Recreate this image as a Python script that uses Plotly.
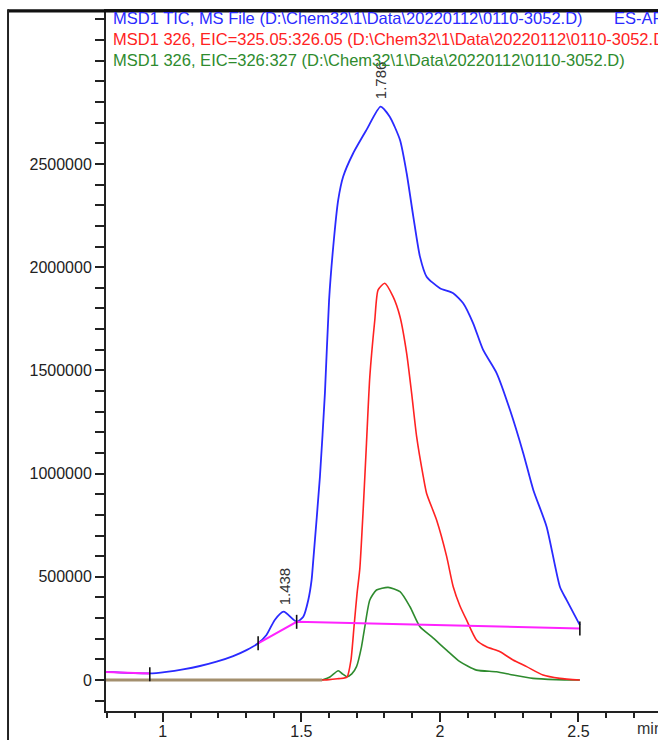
import plotly.graph_objects as go
import numpy as np

# ---------------- data ----------------
tic_time = [0.785, 0.953, 1.013, 1.073, 1.134, 1.194, 1.254, 1.302, 1.344, 1.374,
            1.404, 1.436, 1.483, 1.507, 1.525, 1.537, 1.543, 1.567, 1.585, 1.600,
            1.615, 1.633, 1.651, 1.687, 1.735, 1.786, 1.819, 1.856, 1.880, 1.904,
            1.928, 1.952, 2.000, 2.048, 2.084, 2.120, 2.156, 2.205, 2.253, 2.301,
            2.337, 2.385, 2.433, 2.457, 2.505]
tic = [40000, 32000, 40000, 52000, 68000, 89000, 116000, 145000, 178000, 218000,
       291000, 331000, 282000, 307000, 388000, 485000, 581000, 985000, 1390000, 1840000,
       2099000, 2326000, 2439000, 2552000, 2665000, 2778000, 2729000, 2616000, 2455000, 2245000,
       2051000, 1954000, 1898000, 1874000, 1825000, 1728000, 1599000, 1486000, 1308000, 1098000,
       921000, 743000, 452000, 388000, 266000]

eic1_time = [1.575, 1.600, 1.630, 1.655, 1.665, 1.679, 1.690, 1.701, 1.711, 1.723,
             1.735, 1.747, 1.765, 1.777, 1.801, 1.831, 1.856, 1.880, 1.898, 1.916,
             1.940, 1.952, 1.988, 2.024, 2.048, 2.072, 2.096, 2.132, 2.168, 2.217,
             2.264, 2.313, 2.372, 2.433, 2.505]
eic1 = [0, 2000, 6000, 10000, 15000, 97000, 258000, 420000, 540000, 824000,
        1147000, 1469000, 1744000, 1890000, 1922000, 1857000, 1760000, 1583000, 1389000, 1179000,
        985000, 904000, 775000, 600000, 452000, 360000, 291000, 194000, 161000, 137000,
        97000, 65000, 24000, 8000, 0]

eic2_time = [1.575, 1.603, 1.633, 1.648, 1.664, 1.682, 1.699, 1.717, 1.729, 1.747,
             1.771, 1.813, 1.856, 1.892, 1.928, 1.970, 2.024, 2.072, 2.132, 2.204,
             2.264, 2.336, 2.420, 2.505]
eic2 = [0, 15000, 45000, 30000, 16000, 30000, 65000, 161000, 258000, 388000,
        436000, 449000, 428000, 355000, 258000, 210000, 145000, 89000, 48000, 40000,
        24000, 8000, 2000, 0]

# integration baselines
tic_base_time = [0.785, 0.953, None, 1.344, 1.483, 2.505]
tic_base = [40000, 32000, None, 178000, 282000, 250000]
eic_base_time = [0.785, 1.575]
eic_base = [0, 0]

# integration event marks
event_time = [0.953, 1.344, 1.483, 2.505]
event_val = [28000, 178000, 282000, 250000]

peak_times = [1.438, 1.786]
peak_labels = ["1.438", "1.786"]

legend_lines = [
    "MSD1 TIC, MS File (D:\\Chem32\\1\\Data\\20220112\\0110-3052.D)",
    "MSD1 326, EIC=325.05:326.05 (D:\\Chem32\\1\\Data\\20220112\\0110-3052.D)",
    "MSD1 326, EIC=326:327 (D:\\Chem32\\1\\Data\\20220112\\0110-3052.D)",
]
legend_colors = ["#2a2aff", "#ff2222", "#2e8b2e"]

x_ticks = [1, 1.5, 2, 2.5]
x_ticktext = ["1", "1.5", "2", "2.5"]
y_ticks = [0, 500000, 1000000, 1500000, 2000000, 2500000]
y_ticktext = ["0", "500000", "1000000", "1500000", "2000000", "2500000"]

# ---------------- figure ----------------
FONT = "Liberation Sans, Arial, sans-serif"
fig = go.Figure()

fig.add_trace(go.Scatter(x=eic_base_time, y=eic_base, mode="lines",
                         line=dict(color="#a38f6e", width=3), hoverinfo="skip"))
fig.add_trace(go.Scatter(x=eic2_time, y=eic2, mode="lines",
                         line=dict(color="#2e8b2e", width=1.6, shape="spline", smoothing=0.6)))
fig.add_trace(go.Scatter(x=eic1_time, y=eic1, mode="lines",
                         line=dict(color="#ff2222", width=1.6, shape="spline", smoothing=0.6)))
fig.add_trace(go.Scatter(x=tic_time, y=tic, mode="lines",
                         line=dict(color="#2a2aff", width=1.8, shape="spline", smoothing=0.6)))
fig.add_trace(go.Scatter(x=tic_base_time, y=tic_base, mode="lines",
                         line=dict(color="#ff22ff", width=2), connectgaps=False))
fig.add_trace(go.Scatter(x=event_time, y=event_val, mode="markers",
                         marker=dict(symbol="line-ns", size=10,
                                     line=dict(color="#111111", width=1.6))))

# peak labels
tic_arr = np.array(tic, dtype=float)
for t, lab in zip(peak_times, peak_labels):
    yv = float(np.interp(t, tic_time, tic_arr))
    fig.add_annotation(x=t, y=yv, xref="x", yref="y", text=lab, textangle=-90,
                       showarrow=False, yanchor="bottom", xanchor="center", yshift=5,
                       font=dict(family=FONT, size=15, color="#333333"))

# legend text lines
for i, (txt, col) in enumerate(zip(legend_lines, legend_colors)):
    fig.add_annotation(x=0.009, y=0.990 - i * 0.030, xref="paper", yref="paper",
                       text=txt, showarrow=False, xanchor="left", yanchor="middle",
                       font=dict(family=FONT, size=16.5, color=col))
fig.add_annotation(x=0.917, y=0.990, xref="paper", yref="paper", text="ES-API",
                   showarrow=False, xanchor="left", yanchor="middle",
                   font=dict(family=FONT, size=16.5, color=legend_colors[0]))
fig.add_annotation(x=0.958, y=-0.025, xref="paper", yref="paper", text="min",
                   showarrow=False, xanchor="left", yanchor="middle",
                   font=dict(family=FONT, size=16, color="#333333"))

# outer frame (top and left)
fig.add_shape(type="rect", xref="paper", yref="paper", x0=-0.1775, x1=1.02,
              y0=0.9980, y1=1.0025, fillcolor="#111111", line=dict(width=0),
              layer="above")
fig.add_shape(type="line", xref="paper", yref="paper", x0=-0.1775, x1=-0.1775,
              y0=1.0025, y1=-0.05, line=dict(color="#222222", width=2), layer="above")

fig.update_layout(
    width=658, height=740,
    margin=dict(l=106, r=0, t=11, b=29, autoexpand=False),
    paper_bgcolor="white", plot_bgcolor="white",
    showlegend=False,
    font=dict(family=FONT, size=16, color="#222222"),
    xaxis=dict(range=[0.795, 2.787], showgrid=False, zeroline=False, automargin=False,
               showline=True, mirror=True, linecolor="#222222", linewidth=2,
               tickmode="array", tickvals=x_ticks, ticktext=x_ticktext,
               ticks="outside", ticklen=9, tickwidth=1.5, tickcolor="#222222",
               ticklabelstandoff=-4,
               minor=dict(ticks="outside", dtick=0.1, tick0=0.8, ticklen=5,
                          tickwidth=1.5, tickcolor="#222222"),
               tickfont=dict(family=FONT, size=16, color="#222222")),
    yaxis=dict(range=[-150000, 3241000], showgrid=False, zeroline=False, automargin=False,
               showline=True, linecolor="#222222", linewidth=2,
               tickmode="array", tickvals=y_ticks, ticktext=y_ticktext,
               ticks="outside", ticklen=9, tickwidth=1.5, tickcolor="#222222",
               minor=dict(ticks="outside", dtick=100000, tick0=0, ticklen=9,
                          tickwidth=1.5, tickcolor="#222222"),
               tickfont=dict(family=FONT, size=16, color="#222222")),
)

fig.write_html(
    "out.html",
    config={"displayModeBar": False},
    post_script="document.body.style.margin='0';document.body.style.overflow='hidden';",
)
